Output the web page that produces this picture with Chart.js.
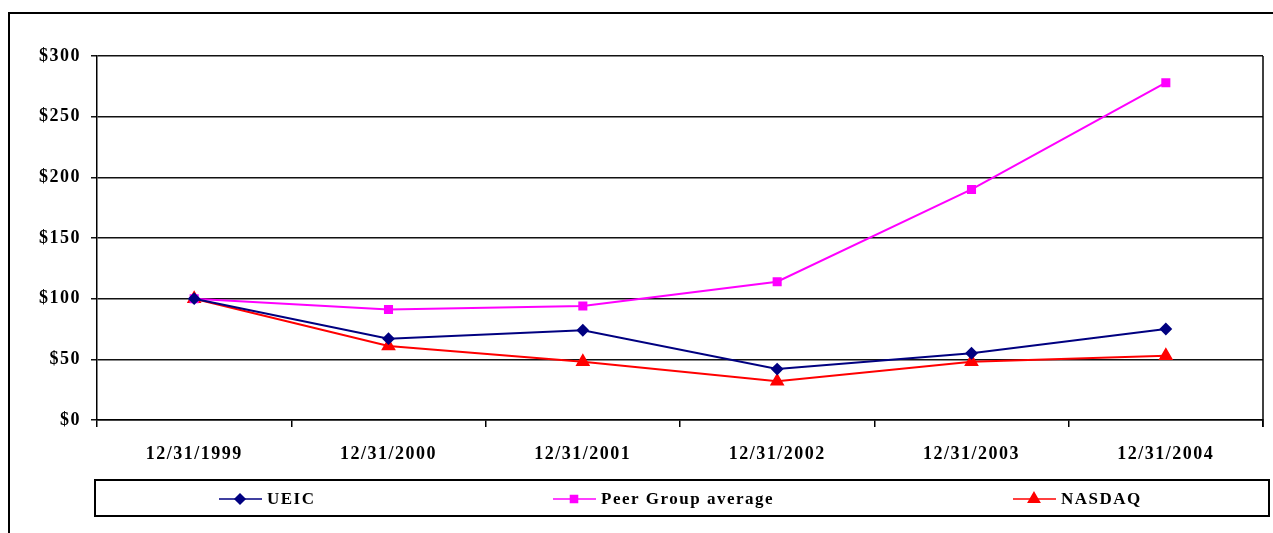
<!DOCTYPE html>
<html lang="en">
<head>
    <meta charset="UTF-8">
    <title>Stock Performance</title>
    <script src="https://cdn.jsdelivr.net/npm/chart.js@4.4.0/dist/chart.umd.min.js"></script>
    <style>
        html, body { margin: 0; padding: 0; background: #fff; }
        #wrap { width: 1273px; height: 533px; position: relative; }
    </style>
</head>
<body>
<div id="wrap"><canvas id="perfChart"></canvas></div>
<script>
    const years = ['12/31/1999', '12/31/2000', '12/31/2001', '12/31/2002', '12/31/2003', '12/31/2004'];
    const ueic = [100, 67, 74, 42, 55, 75];
    const peerGroup = [100, 91, 94, 114, 190, 278];
    const nasdaq = [100, 61, 48, 32, 48, 53];
    const yTicks = [0, 50, 100, 150, 200, 250, 300];

    const labelFont = { family: 'Liberation Serif', size: 18, weight: 'bold' };
    const spacing = '1.5px';

    // outer frame, right border of the plot and the boxed legend
    const framePlugin = {
        id: 'frame',
        beforeUpdate(chart) { chart.ctx.letterSpacing = spacing; },
        beforeDraw(chart) { chart.ctx.letterSpacing = spacing; },
        afterDraw(chart) {
            const ctx = chart.ctx, area = chart.chartArea;
            ctx.save();
            ctx.strokeStyle = '#000';
            ctx.lineWidth = 2;
            ctx.strokeRect(9, 13, 1300, 560);
            ctx.lineWidth = 1.5;
            ctx.beginPath();
            ctx.moveTo(area.right, area.top);
            ctx.lineTo(area.right, area.bottom + 7);
            ctx.stroke();
            // legend box
            ctx.lineWidth = 2;
            ctx.strokeRect(95, 480, 1174, 36);
            const itemX = [219, 553, 1013];
            const cy = 499;
            chart.data.datasets.forEach((ds, i) => {
                const x = itemX[i];
                ctx.strokeStyle = ds.borderColor;
                ctx.lineWidth = 1.5;
                ctx.beginPath();
                ctx.moveTo(x, cy);
                ctx.lineTo(x + 43, cy);
                ctx.stroke();
                ctx.fillStyle = ds.pointBackgroundColor;
                ctx.strokeStyle = ds.pointBackgroundColor;
                Chart.helpers.drawPoint(ctx, { pointStyle: ds.pointStyle, radius: ds.pointRadius, rotation: 0, borderWidth: 1 }, x + 21, cy);
                ctx.fillStyle = '#000';
                ctx.font = 'bold 17px "Liberation Serif"';
                ctx.letterSpacing = spacing;
                ctx.textBaseline = 'middle';
                ctx.textAlign = 'left';
                ctx.fillText(ds.label, x + 48, cy + 1);
            });
            ctx.restore();
        }
    };

    new Chart(document.getElementById('perfChart'), {
        type: 'line',
        data: {
            labels: years,
            datasets: [
                { label: 'UEIC', data: ueic, borderColor: '#000080', pointBackgroundColor: '#000080', pointBorderColor: '#000080', pointStyle: 'rectRot', pointRadius: 5, borderWidth: 2 },
                { label: 'Peer Group average', data: peerGroup, borderColor: '#FF00FF', pointBackgroundColor: '#FF00FF', pointBorderColor: '#FF00FF', pointStyle: 'rect', pointRadius: 5, borderWidth: 2 },
                { label: 'NASDAQ', data: nasdaq, borderColor: '#FF0000', pointBackgroundColor: '#FF0000', pointBorderColor: '#FF0000', pointStyle: 'triangle', pointRadius: 6.5, borderWidth: 2 }
            ]
        },
        options: {
            responsive: true,
            maintainAspectRatio: false,
            animation: false,
            layout: { padding: { top: 56, right: 10, bottom: 0, left: 0 } },
            plugins: { legend: { display: false }, tooltip: { enabled: false } },
            scales: {
                x: {
                    offset: true,
                    afterFit: s => { s.height = 113; },
                    grid: { offset: true, drawOnChartArea: false, color: '#000', lineWidth: 1.5, tickLength: 7 },
                    border: { color: '#000', width: 1.5 },
                    ticks: { color: '#000', font: labelFont, padding: 17, maxRotation: 0 }
                },
                y: {
                    min: 0,
                    max: 300,
                    afterFit: s => { s.width = 97; },
                    afterBuildTicks: s => { s.ticks = yTicks.map(v => ({ value: v })); },
                    grid: { color: '#111', lineWidth: 1.5, tickLength: 6 },
                    border: { color: '#000', width: 1.5 },
                    ticks: { color: '#000', font: labelFont, padding: 10, callback: v => '$' + v }
                }
            }
        },
        plugins: [framePlugin]
    });
</script>
</body>
</html>
